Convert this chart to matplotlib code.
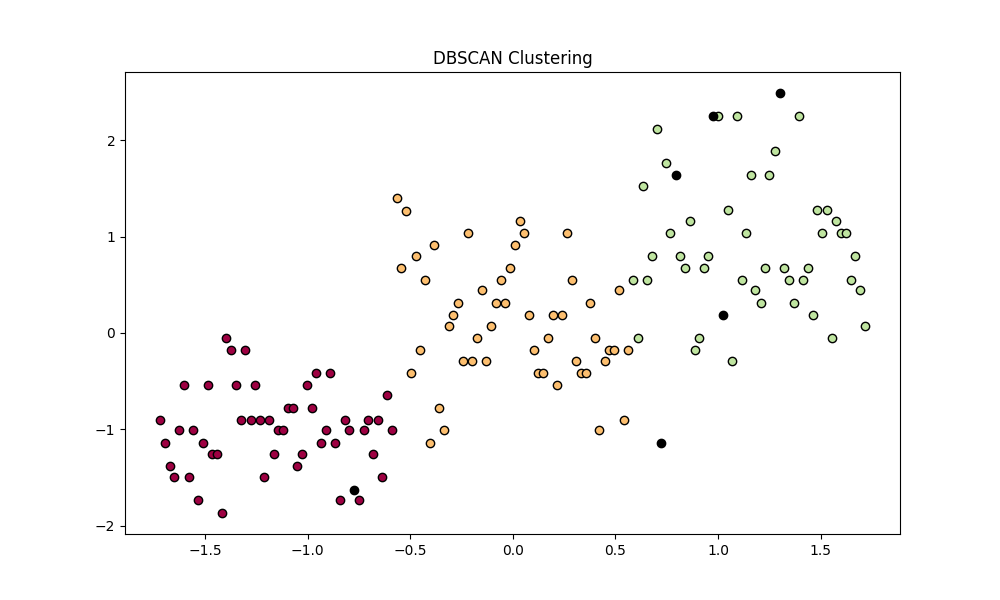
import numpy as np
import matplotlib
matplotlib.use('Agg')
import matplotlib.pyplot as plt

# cluster 0 (red)
x0 = [-1.398, -1.374, -1.305, -0.960, -0.893, -1.603, -1.486, -1.349, -1.257, -1.003,
      -0.615, -1.097, -1.072, -0.979, -1.719, -1.326, -1.279, -1.232, -1.187, -0.818,
      -0.706, -0.658, -1.627, -1.559, -1.145, -1.120, -0.911, -0.799, -0.726, -0.589,
      -1.695, -1.510, -0.937, -0.867, -1.466, -1.440, -1.164, -1.028, -0.682, -1.671,
      -1.052, -1.651, -1.578, -1.213, -0.638, -1.534, -0.844, -0.750, -1.417]
y0 = [-0.05, -0.18, -0.18, -0.42, -0.42, -0.54, -0.54, -0.54, -0.54, -0.54,
      -0.65, -0.78, -0.78, -0.78, -0.90, -0.90, -0.90, -0.90, -0.90, -0.90,
      -0.90, -0.90, -1.01, -1.01, -1.01, -1.01, -1.01, -1.01, -1.01, -1.01,
      -1.14, -1.14, -1.14, -1.14, -1.26, -1.26, -1.26, -1.26, -1.26, -1.38,
      -1.38, -1.50, -1.50, -1.50, -1.50, -1.74, -1.74, -1.74, -1.87]

# cluster 1 (orange)
x1 = [-0.565, -0.521, 0.034, -0.219, 0.054, 0.263, -0.385, 0.010, -0.472, -0.546,
      -0.015, -0.429, -0.058, 0.286, -0.151, -0.268, -0.084, -0.039, 0.378, 0.516,
      -0.292, 0.078, 0.193, 0.239, -0.312, -0.107, -0.175, 0.170, 0.399, -0.453,
      0.101, 0.468, 0.492, 0.560, -0.244, -0.198, -0.132, 0.307, 0.448, -0.497,
      0.124, 0.146, 0.331, 0.356, 0.213, -0.360, -0.336, -0.404, 0.541, 0.422]
y1 = [1.40, 1.27, 1.16, 1.04, 1.04, 1.04, 0.91, 0.91, 0.80, 0.67,
      0.67, 0.55, 0.55, 0.55, 0.44, 0.31, 0.31, 0.31, 0.31, 0.44,
      0.19, 0.19, 0.19, 0.19, 0.07, 0.07, -0.05, -0.05, -0.05, -0.18,
      -0.18, -0.18, -0.18, -0.18, -0.29, -0.29, -0.29, -0.29, -0.29, -0.42,
      -0.42, -0.42, -0.42, -0.42, -0.54, -0.78, -1.01, -1.14, -0.90, -1.01]

# cluster 2 (green)
x2 = [0.999, 1.090, 1.393, 0.701, 1.276, 0.745, 1.159, 1.248, 0.632, 1.046,
      1.481, 1.529, 0.861, 1.573, 0.768, 1.138, 1.505, 1.600, 1.624, 0.677,
      0.812, 0.953, 1.666, 0.838, 0.930, 1.227, 1.320, 1.437, 0.585, 0.652,
      1.115, 1.344, 1.413, 1.646, 1.182, 1.690, 1.208, 1.369, 1.461, 1.715,
      0.608, 0.905, 1.554, 0.887, 1.067]
y2 = [2.25, 2.25, 2.25, 2.12, 1.89, 1.76, 1.64, 1.64, 1.52, 1.28,
      1.28, 1.28, 1.16, 1.16, 1.04, 1.04, 1.04, 1.04, 1.04, 0.80,
      0.80, 0.80, 0.80, 0.67, 0.67, 0.67, 0.67, 0.67, 0.55, 0.55,
      0.55, 0.55, 0.55, 0.55, 0.44, 0.44, 0.31, 0.31, 0.19, 0.07,
      -0.05, -0.05, -0.05, -0.18, -0.29]

# noise
xn = [0.974, 1.301, 0.794, 1.023, 0.721, -0.774]
yn = [2.25, 2.49, 1.64, 0.19, -1.14, -1.63]

clusters = [(x0, y0), (x1, y1), (x2, y2)]
colors = [plt.cm.Spectral(each) for each in np.linspace(0, 1, 4)]

plt.figure(figsize=(10, 6))
for (xs, ys), col in zip(clusters, colors):
    plt.plot(xs, ys, 'o', markerfacecolor=col, markeredgecolor='k', markersize=6)
plt.plot(xn, yn, 'o', markerfacecolor='k', markeredgecolor='k', markersize=6)
plt.title('DBSCAN Clustering')
plt.savefig('out.png')
